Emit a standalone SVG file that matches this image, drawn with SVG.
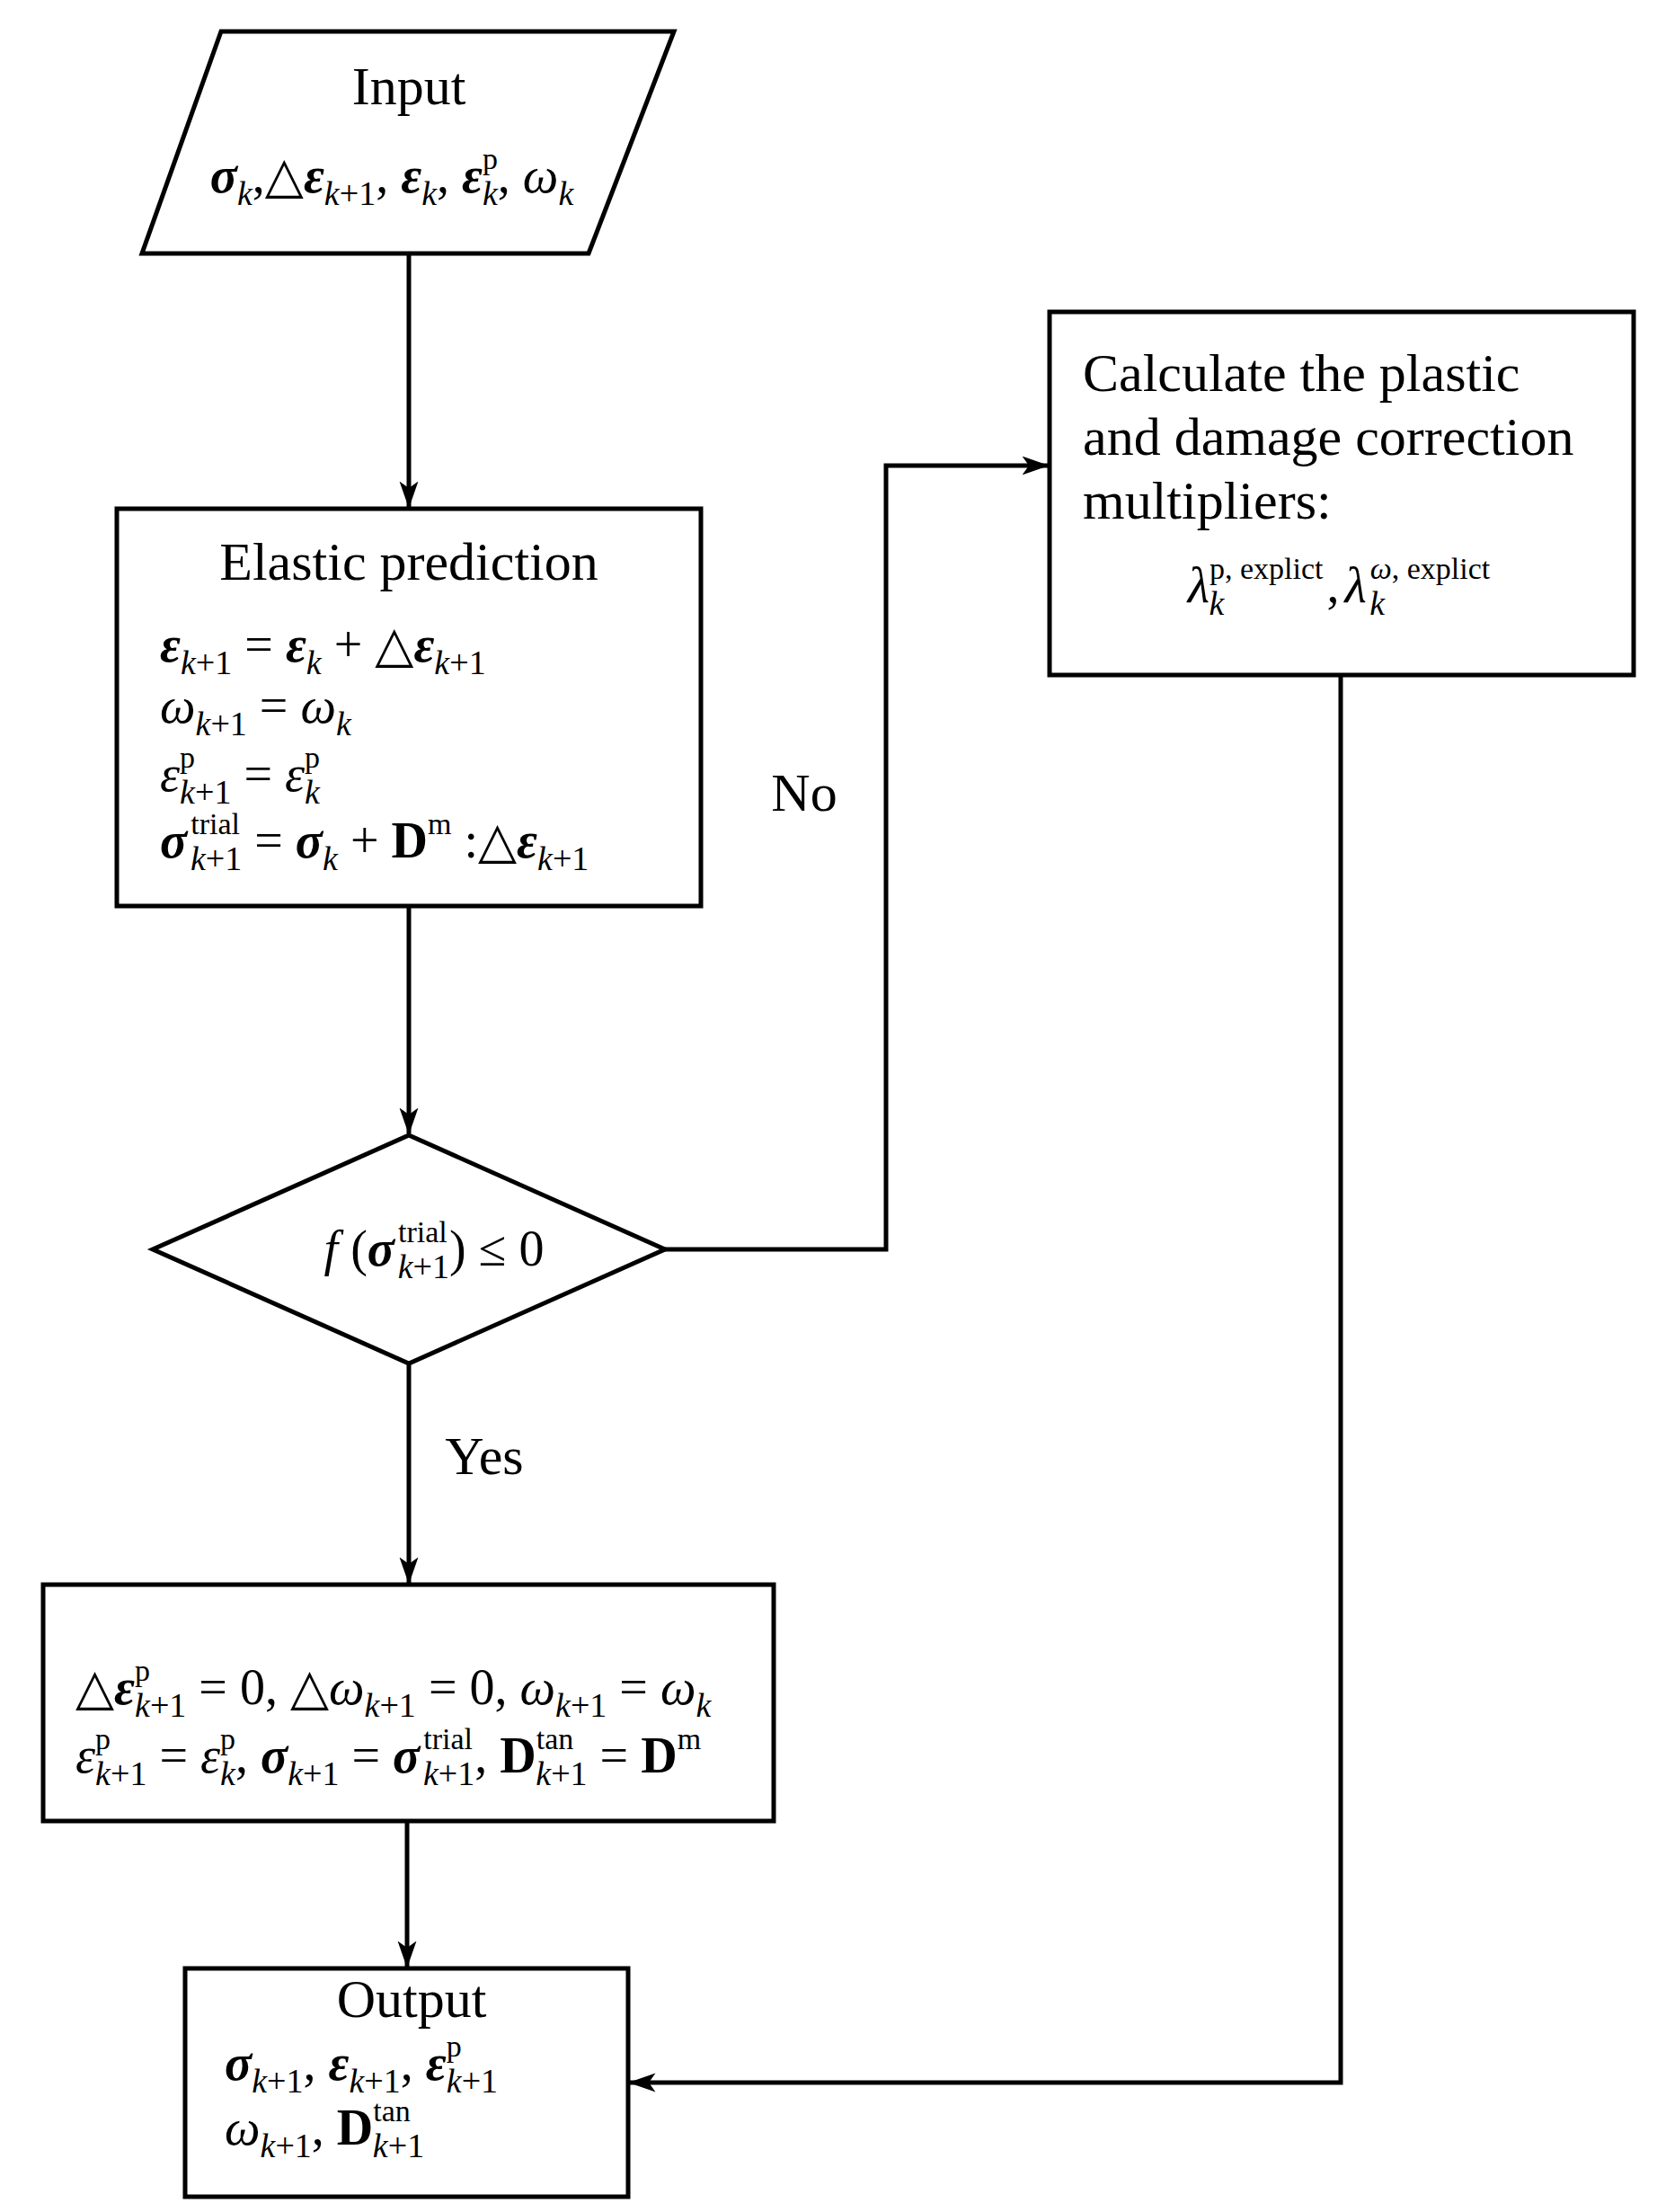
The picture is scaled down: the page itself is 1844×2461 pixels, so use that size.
<svg xmlns="http://www.w3.org/2000/svg" width="1844" height="2461" viewBox="0 0 1844 2461">
<defs>
<style>
.sh{fill:#fff;stroke:#000;stroke-width:5;stroke-linejoin:miter}
.ln{fill:none;stroke:#000;stroke-width:5}
text{font-family:"Liberation Serif","DejaVu Serif",serif;font-size:60px;fill:#000}
.m{font-size:56px}
.bi{font-weight:bold;font-style:italic}
.i{font-style:italic}
.b{font-weight:bold}
.sb{font-size:38px;baseline-shift:-14px}
.sp{font-size:34px;baseline-shift:26px}
</style>
<marker id="ah" viewBox="0 0 20 20" refX="19" refY="10" markerWidth="30" markerHeight="30" markerUnits="userSpaceOnUse" orient="auto">
<path d="M0,3 L20,10 L0,17 L5,10 Z" fill="#000"/>
</marker>
</defs>
<g id="connectors">
<line class="ln" x1="455" y1="282" x2="455" y2="564" marker-end="url(#ah)"/>
<line class="ln" x1="455" y1="1008" x2="455" y2="1261" marker-end="url(#ah)"/>
<polyline class="ln" points="740,1390 986,1390 986,518 1166,518" marker-end="url(#ah)"/>
<line class="ln" x1="455" y1="1517" x2="455" y2="1761" marker-end="url(#ah)"/>
<line class="ln" x1="453" y1="2026" x2="453" y2="2188" marker-end="url(#ah)"/>
<polyline class="ln" points="1492,751 1492,2317 701,2317" marker-end="url(#ah)"/>
<text x="895" y="902" text-anchor="middle">No</text>
<text x="539" y="1640" text-anchor="middle">Yes</text>
</g>
<g id="input">
<polygon class="sh" points="246,35 750,35 655,282 158,282"/>
<text x="455" y="116" text-anchor="middle">Input</text>
<text class="m" x="436" y="214" text-anchor="middle"><tspan class="bi">σ</tspan><tspan class="sb i">k</tspan>,△<tspan class="bi">ε</tspan><tspan class="sb"><tspan class="i">k</tspan>+1</tspan>, <tspan class="bi">ε</tspan><tspan class="sb i">k</tspan>, <tspan class="bi">ε</tspan><tspan class="sp">p</tspan><tspan class="sb i" dx="-17">k</tspan>, <tspan class="i">ω</tspan><tspan class="sb i">k</tspan></text>
</g>
<g id="elastic">
<rect class="sh" x="130" y="566" width="650" height="442"/>
<text x="455" y="645" text-anchor="middle">Elastic prediction</text>
<text class="m" x="178" y="736"><tspan class="bi">ε</tspan><tspan class="sb"><tspan class="i">k</tspan>+1</tspan> = <tspan class="bi">ε</tspan><tspan class="sb i">k</tspan> + △<tspan class="bi">ε</tspan><tspan class="sb"><tspan class="i">k</tspan>+1</tspan></text>
<text class="m" x="178" y="804"><tspan class="i">ω</tspan><tspan class="sb"><tspan class="i">k</tspan>+1</tspan> = <tspan class="i">ω</tspan><tspan class="sb i">k</tspan></text>
<text class="m" x="178" y="880"><tspan class="i">ε</tspan><tspan class="sp">p</tspan><tspan class="sb" dx="-17"><tspan class="i">k</tspan>+1</tspan> = <tspan class="i">ε</tspan><tspan class="sp">p</tspan><tspan class="sb i" dx="-17">k</tspan></text>
<text class="m" x="178" y="954"><tspan class="bi">σ</tspan><tspan class="sp" dx="4">trial</tspan><tspan class="sb" dx="-55"><tspan class="i">k</tspan>+1</tspan> = <tspan class="bi">σ</tspan><tspan class="sb i">k</tspan> + <tspan class="b">D</tspan><tspan class="sp">m</tspan> :△<tspan class="bi">ε</tspan><tspan class="sb"><tspan class="i">k</tspan>+1</tspan></text>
</g>
<g id="decision">
<polygon class="sh" points="455,1263 740,1390 455,1517 170,1390"/>
<text class="m" x="483" y="1408" text-anchor="middle"><tspan class="i">f</tspan> (<tspan class="bi">σ</tspan><tspan class="sp" dx="4">trial</tspan><tspan class="sb" dx="-55"><tspan class="i">k</tspan>+1</tspan>) ≤ 0</text>
</g>
<g id="calc">
<rect class="sh" x="1168" y="347" width="650" height="404"/>
<text x="1205" y="435">Calculate the plastic</text>
<text x="1205" y="506">and damage correction</text>
<text x="1205" y="577">multipliers:</text>
<text class="m" x="1490" y="670" text-anchor="middle"><tspan class="i">λ</tspan><tspan class="sp">p, explict</tspan><tspan class="sb i" dx="-127">k</tspan><tspan dx="114">,</tspan><tspan class="i" dx="6">λ</tspan><tspan class="sp" dx="4"><tspan class="i">ω</tspan>, explict</tspan><tspan class="sb i" dx="-134">k</tspan><tspan dx="117"> </tspan></text>
</g>
<g id="elastic-update">
<rect class="sh" x="48" y="1763" width="813" height="263"/>
<text class="m" x="84" y="1896">△<tspan class="bi">ε</tspan><tspan class="sp">p</tspan><tspan class="sb" dx="-17"><tspan class="i">k</tspan>+1</tspan> = 0, △<tspan class="i">ω</tspan><tspan class="sb"><tspan class="i">k</tspan>+1</tspan> = 0, <tspan class="i">ω</tspan><tspan class="sb"><tspan class="i">k</tspan>+1</tspan> = <tspan class="i">ω</tspan><tspan class="sb i">k</tspan></text>
<text class="m" x="84" y="1972"><tspan class="i">ε</tspan><tspan class="sp">p</tspan><tspan class="sb" dx="-17"><tspan class="i">k</tspan>+1</tspan> = <tspan class="i">ε</tspan><tspan class="sp">p</tspan><tspan class="sb i" dx="-17">k</tspan>, <tspan class="bi">σ</tspan><tspan class="sb"><tspan class="i">k</tspan>+1</tspan> = <tspan class="bi">σ</tspan><tspan class="sp" dx="4">trial</tspan><tspan class="sb" dx="-55"><tspan class="i">k</tspan>+1</tspan>, <tspan class="b">D</tspan><tspan class="sp">tan</tspan><tspan class="sb" dx="-42"><tspan class="i">k</tspan>+1</tspan> = <tspan class="b">D</tspan><tspan class="sp">m</tspan></text>
</g>
<g id="output">
<rect class="sh" x="206" y="2190" width="493" height="254"/>
<text x="458" y="2244" text-anchor="middle">Output</text>
<text class="m" x="250" y="2314"><tspan class="bi">σ</tspan><tspan class="sb"><tspan class="i">k</tspan>+1</tspan>, <tspan class="bi">ε</tspan><tspan class="sb"><tspan class="i">k</tspan>+1</tspan>, <tspan class="bi">ε</tspan><tspan class="sp">p</tspan><tspan class="sb" dx="-17"><tspan class="i">k</tspan>+1</tspan></text>
<text class="m" x="250" y="2386"><tspan class="i">ω</tspan><tspan class="sb"><tspan class="i">k</tspan>+1</tspan>, <tspan class="b">D</tspan><tspan class="sp">tan</tspan><tspan class="sb" dx="-42"><tspan class="i">k</tspan>+1</tspan></text>
</g>
</svg>
